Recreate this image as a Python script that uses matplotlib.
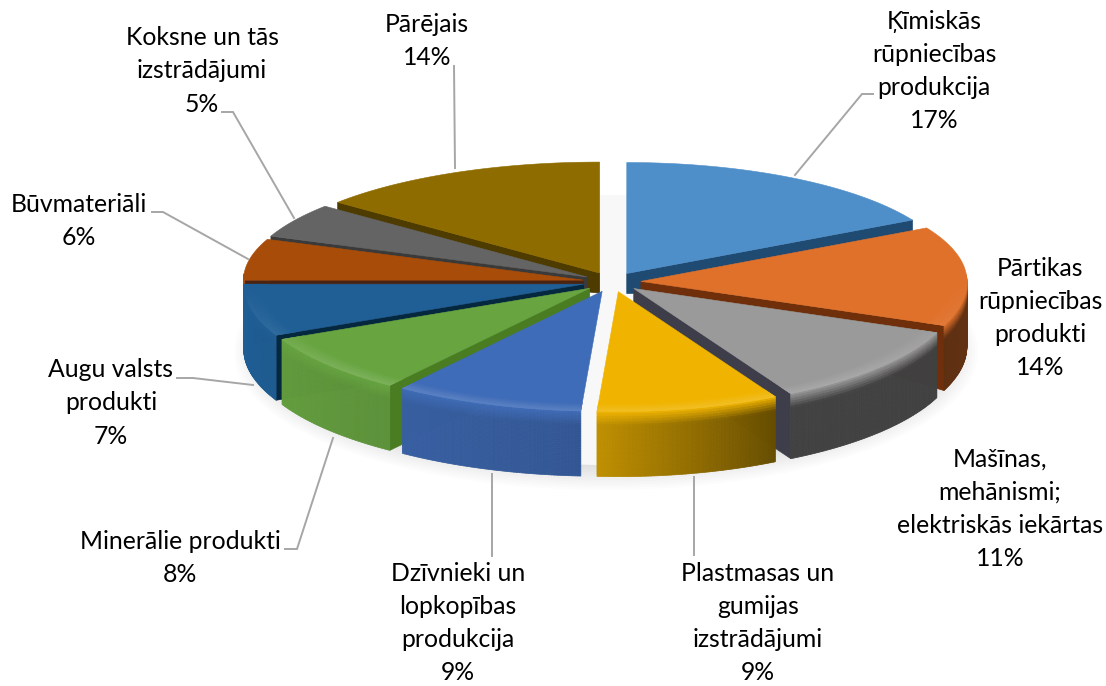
import numpy as np
import matplotlib
matplotlib.use('Agg')
import matplotlib.pyplot as plt
from matplotlib.collections import PolyCollection
from matplotlib.colors import to_rgb
from matplotlib.patches import Ellipse, Polygon

# dati
nosaukumi = ['Ķīmiskās\nrūpniecības\nprodukcija', 'Pārtikas\nrūpniecības\nprodukti',
             'Mašīnas,\nmehānismi;\nelektriskās iekārtas', 'Plastmasas un\ngumijas\nizstrādājumi',
             'Dzīvnieki un\nlopkopības\nprodukcija', 'Minerālie produkti',
             'Augu valsts\nprodukti', 'Būvmateriāli', 'Koksne un tās\nizstrādājumi', 'Pārējais']
procenti = [17, 14, 11, 9, 9, 8, 7, 6, 5, 14]

# krāsas
top_colors = ['#4f8fc9', '#e0712b', '#9a9a9a', '#f0b400', '#3f6cb8',
              '#68a541', '#1f5f96', '#a84c0a', '#646464', '#8f6c00']
cut_colors = ['#1f4a72', '#6e2f0a', '#3e3e4a', '#6b5000', '#2c4a86',
              '#4a7c22', '#06283f', '#4a2410', '#3a3a3a', '#4d3b00']

# uzrakstu novietojums (centrs, pikseļos) un līnijas
label_pos = [(934, 71), (1040, 318), (1000, 509), (758, 623), (458, 623),
             (180, 558), (111, 403), (79, 221), (202, 71), (427, 41)]
leaders = [[(795, 175), (862, 94), (873, 94)],
           None,
           None,
           [(694, 477), (694, 555)],
           [(492, 474), (492, 556)],
           [(333, 438), (297, 549), (285, 549)],
           [(253, 385), (193, 378), (177, 378)],
           [(248, 259), (163, 212), (152, 212)],
           [(294, 218), (233, 112), (222, 112)],
           [(455, 168), (454, 66)]]

plt.rcParams['font.family'] = ['Lato', 'DejaVu Sans']

# ģeometrija
cx, cy = 612, 282
Rx_right, Rx_left = 326, 340
Ry_back, Ry_front = 111, 120
explode = 29
depth = 65


def shade(t):
    return np.interp(t, [61, 112, 151, 184, 216, 245, 270],
                     [0.48, 0.42, 0.42, 0.80, 0.88, 0.95, 1.0])


def point(ax0, ay0, t, r=1.0, z=0.0):
    a = np.radians(t)
    s, c = np.sin(a), np.cos(a)
    rx = Rx_right if s > 0 else Rx_left
    ry = Ry_back if c > 0 else Ry_front
    return (ax0 + rx * r * s, ay0 - ry * r * c + z)


def mix(c1, c2, k):
    return tuple((1 - k) * np.array(c1) + k * np.array(c2))


fig = plt.figure(figsize=(11.06, 6.86), dpi=100)
ax = fig.add_axes([0, 0, 1, 1])
ax.set_xlim(0, 1106)
ax.set_ylim(686, 0)
ax.axis('off')

# ēna - tikai mala ap diagrammu
for i in range(14):
    ax.add_patch(Ellipse((606, 352), 2 * (372 - i * 3), 2 * (138 - i * 2.5),
                         fc='black', ec='none', alpha=0.01, zorder=1))
ax.add_patch(Ellipse((606, 330), 2 * 325, 2 * 135, fc='#f8f8f8', ec='none', zorder=1))

edges = np.cumsum([0] + procenti) * 3.6
mids = (edges[:-1] + edges[1:]) / 2
order = np.argsort(-np.cos(np.radians(mids)))

z = 2
for i in order:
    t0, t1, mid = edges[i], edges[i + 1], mids[i]
    a = np.radians(mid)
    ax0 = cx + explode * np.sin(a)
    ay0 = cy - explode * 0.34 * np.cos(a)
    top = to_rgb(top_colors[i])
    thetas = np.linspace(t0, t1, int((t1 - t0) * 2) + 2)

    # griezuma plaknes - tikai tās, kas vērstas uz skatītāju
    inner = 20 if np.cos(a) > 0 else depth
    for t, visible in ((t0, np.sin(np.radians(t0)) < -0.1), (t1, np.sin(np.radians(t1)) > 0.1)):
        if not visible:
            continue
        poly = [point(ax0, ay0, t, 0), point(ax0, ay0, t), point(ax0, ay0, t, 1, depth),
                point(ax0, ay0, t, 0, inner)]
        ax.add_patch(Polygon(poly, fc=cut_colors[i], ec=cut_colors[i], lw=0.5, zorder=z))
    z += 1

    # ārējā siena
    polys, cols = [], []
    levels = np.linspace(0, 1, 27)
    for ta, tb in zip(thetas[:-1], thetas[1:]):
        tm = (ta + tb) / 2
        if np.cos(np.radians(tm)) > 0.06:
            continue
        wall = tuple(np.array(top) * shade(tm))
        for va, vb in zip(levels[:-1], levels[1:]):
            v = (va + vb) / 2
            col = mix(top, wall, min(v / 0.22, 1.0))
            polys.append([point(ax0, ay0, ta, 1, va * depth), point(ax0, ay0, tb, 1, va * depth),
                          point(ax0, ay0, tb, 1, vb * depth), point(ax0, ay0, ta, 1, vb * depth)])
            cols.append(col)
    if polys:
        ax.add_collection(PolyCollection(polys, facecolors=cols, edgecolors=cols, linewidths=0.5, zorder=z))
    z += 1

    # virsma
    poly = [point(ax0, ay0, t, 0)] + [point(ax0, ay0, t) for t in thetas]
    ax.add_patch(Polygon(poly, fc=top, ec=top, lw=0.4, zorder=z))
    z += 1

    # gaišā mala priekšpusē
    polys, cols = [], []
    rings = np.linspace(0.93, 1.0, 9)
    for ta, tb in zip(thetas[:-1], thetas[1:]):
        tm = (ta + tb) / 2
        k = np.clip(-np.cos(np.radians(tm)) * 1.4, 0, 1)
        if k <= 0:
            continue
        for ra, rb in zip(rings[:-1], rings[1:]):
            lvl = (ra - 0.93) / 0.06
            col = mix(top, mix(top, (1, 1, 1), 0.14), k * min(lvl, 1))
            polys.append([point(ax0, ay0, ta, ra), point(ax0, ay0, tb, ra),
                          point(ax0, ay0, tb, rb), point(ax0, ay0, ta, rb)])
            cols.append(col)
    if polys:
        ax.add_collection(PolyCollection(polys, facecolors=cols, edgecolors=cols, linewidths=0.3, zorder=z))
    z += 1

# līnijas
for pts in leaders:
    if pts is None:
        continue
    xs, ys = zip(*pts)
    ax.plot(xs, ys, color='#a6a6a6', lw=1.4, zorder=z, solid_joinstyle='miter')

# uzraksti
for name, val, (x, y) in zip(nosaukumi, procenti, label_pos):
    ax.text(x, y, f'{name}\n{val}%', ha='center', va='center', fontsize=17.8,
            linespacing=1.54, color='black', zorder=z + 1)

fig.savefig('out.png', dpi=100)
